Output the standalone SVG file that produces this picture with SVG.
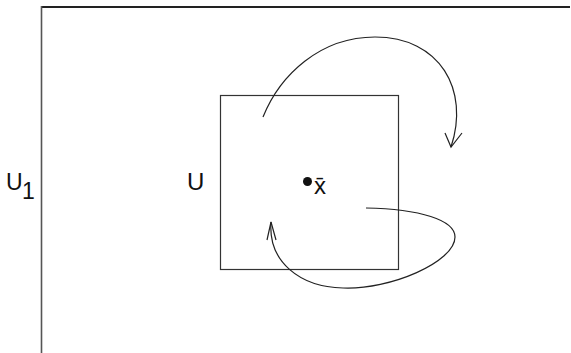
<svg xmlns="http://www.w3.org/2000/svg" width="571" height="353" viewBox="0 0 571 353">
<style>
.t{font-family:"Liberation Sans",Arial,sans-serif;fill:#111}
.c{fill:none;stroke:#222;stroke-width:1.2}
</style>
<rect width="571" height="353" fill="#fff"/>
<g id="frame">
<line x1="41" y1="7" x2="570" y2="7" stroke="#222" stroke-width="2"/>
<line x1="41.5" y1="6" x2="41.5" y2="353" stroke="#555" stroke-width="1.6"/>
<text class="t" x="6" y="190" font-size="23">U</text>
<text class="t" x="22" y="199" font-size="23">1</text>
</g>
<g id="U">
<rect x="220.5" y="95.5" width="178" height="174" fill="none" stroke="#333" stroke-width="1.2"/>
<text class="t" x="187" y="190" font-size="24">U</text>
</g>
<g id="xbar">
<circle cx="307.5" cy="181.5" r="4.5" fill="#111"/>
<text class="t" x="314" y="194" font-size="24">x̄</text>
</g>
<g id="connectors">
<path class="c" d="M263,117 C280,75 320,37 375,37 C440,37 470,90 451,147"/>
<path class="c" d="M445,133 L451,147 L462,133"/>
<path class="c" d="M366,208 C420,209 455,220 455,237 C455,262 390,290 343,288 C300,287 268,262 271,222"/>
<path class="c" d="M267,240 L271,222 L276,240"/>
</g>
</svg>
